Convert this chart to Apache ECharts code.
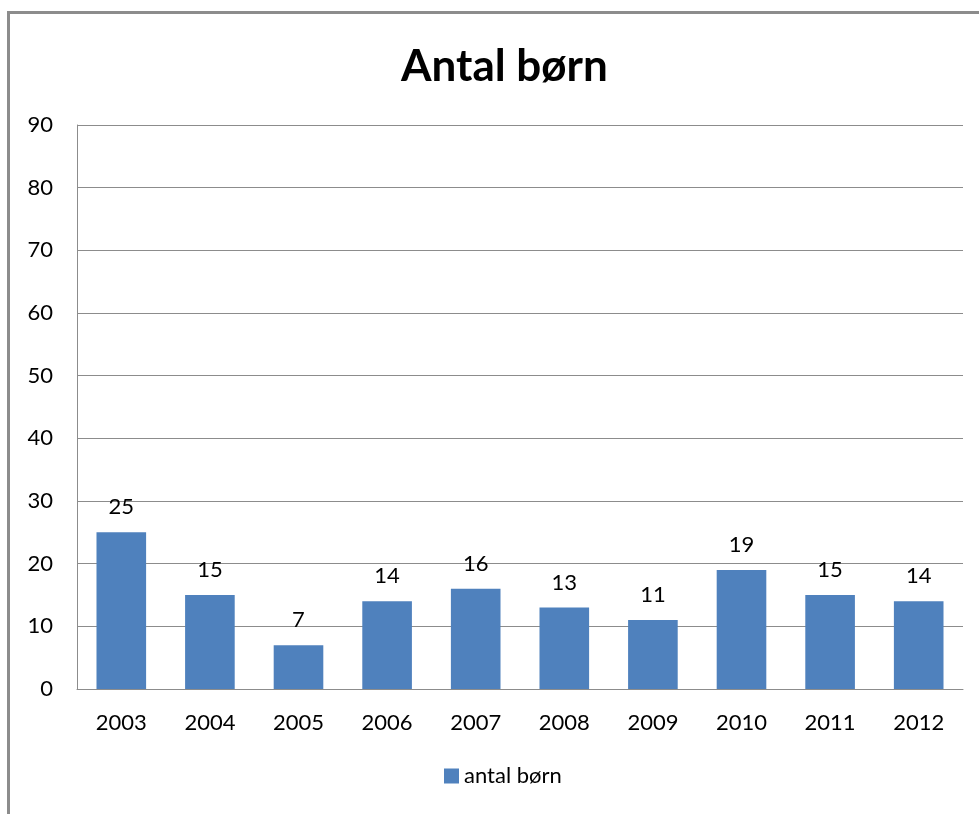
<!DOCTYPE html>
<html>
<head>
<meta charset="utf-8">
<script src="https://cdn.jsdelivr.net/npm/echarts@6/dist/echarts.min.js"></script>
<style>
  html, body { margin: 0; padding: 0; background: #fff; }
  #chart { width: 979px; height: 814px; }
</style>
</head>
<body>
<div id="chart"></div>
<script>
const years = ["2003", "2004", "2005", "2006", "2007", "2008", "2009", "2010", "2011", "2012"];
const antalBoern = [25, 15, 7, 14, 16, 13, 11, 19, 15, 14];

const chart = echarts.init(document.getElementById("chart"));

const option = {
  animation: false,
  textStyle: { fontFamily: "Lato" },
  title: {
    text: "Antal børn",
    left: 396,
    top: 40,
    textStyle: { fontSize: 44, fontWeight: "bold", color: "#000", fontFamily: "Lato" },
  },
  graphic: [
    {
      type: "polyline",
      shape: { points: [[8.5, 830], [8.5, 12.5], [990, 12.5]] },
      style: { fill: null, stroke: "#8c8c8c", lineWidth: 3 },
      silent: true,
    },
  ],
  legend: {
    bottom: 22,
    left: 439,
    itemWidth: 15,
    itemHeight: 15,
    itemGap: 6,
    icon: "rect",
    textStyle: { fontSize: 22, color: "#000", fontFamily: "Lato" },
    data: ["antal børn"],
  },
  grid: {
    left: 77,
    right: 16,
    top: 125,
    bottom: 125,
  },
  xAxis: {
    type: "category",
    data: years,
    axisLine: { lineStyle: { color: "#8c8c8c", width: 1 } },
    axisTick: { show: false },
    axisLabel: { fontSize: 22, color: "#000", margin: 23 },
  },
  yAxis: {
    type: "value",
    min: 0,
    max: 90,
    interval: 10,
    axisLine: { show: true, lineStyle: { color: "#8c8c8c", width: 1 } },
    axisTick: { show: false },
    axisLabel: { fontSize: 22, color: "#000", margin: 24 },
    splitLine: { lineStyle: { color: "#8c8c8c", width: 1 } },
  },
  series: [
    {
      name: "antal børn",
      type: "bar",
      data: antalBoern,
      barWidth: "56%",
      itemStyle: { color: "#4f81bd" },
      label: {
        show: true,
        position: "top",
        distance: 14,
        fontSize: 22,
        color: "#000",
      },
    },
  ],
};

chart.setOption(option);
</script>
</body>
</html>
